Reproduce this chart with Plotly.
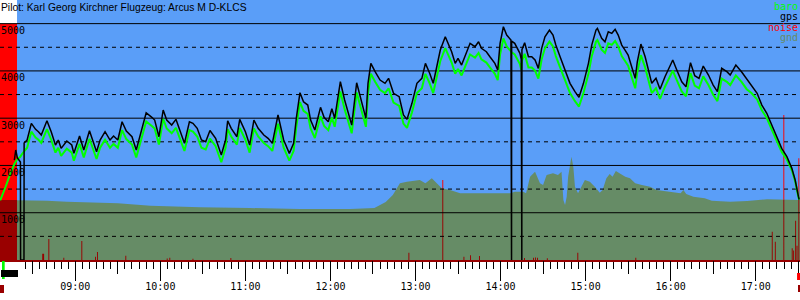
import numpy as np
import pandas as pd
import plotly.graph_objects as go

DAY = "2023-07-15 "

title_text = "Pilot: Karl Georg Kirchner Flugzeug: Arcus M D-KLCS"
legend_names = ["baro", "gps", "noise", "gnd"]

C_BLUE = "#5a9ef8"
C_BARO = "#00ff00"
C_GPS = "#000000"
C_NOISE = "#ff0000"
C_NOISE_DARK = "#990000"
C_GND = "#668c66"
legend_colors = [C_BARO, C_GPS, C_NOISE, C_GND]

x_start = "08:06:53"
x_end = "17:31:15"
takeoff = "08:18:54"

y_ticks = [1000, 2000, 3000, 4000, 5000]
grid_major = [1000, 2000, 3000, 4000, 5000]
grid_minor = [500, 1500, 2500, 3500, 4500]

gps_times = [
    "08:17:00", "08:18:00", "08:19:10", "08:21:18", "08:21:24", "08:23:48", "08:23:54",
    "08:26", "08:29", "08:32", "08:34", "08:36", "08:40", "08:43", "08:46", "08:48", "08:50",
    "08:54", "08:57:30", "08:59", "09:03", "09:06", "09:10", "09:13", "09:15", "09:17:30",
    "09:21", "09:24:30", "09:27", "09:30", "09:33", "09:36", "09:40", "09:43", "09:47",
    "09:50", "09:54", "09:56", "09:59", "10:02", "10:04:30", "10:08", "10:11", "10:14",
    "10:17", "10:20:30", "10:23", "10:26", "10:29", "10:32", "10:35", "10:39", "10:43",
    "10:46", "10:47:30", "10:50", "10:54", "10:56", "11:00", "11:03", "11:06", "11:09",
    "11:13", "11:16", "11:19", "11:23", "11:27", "11:31", "11:34", "11:36", "11:38:30",
    "11:41", "11:44", "11:46", "11:49", "11:53", "11:55:30", "11:58:30", "12:01", "12:03",
    "12:07", "12:10", "12:15", "12:18:30", "12:22", "12:25", "12:26:30", "12:28:30",
    "12:31:30", "12:35", "12:38:30", "12:41", "12:44:30", "12:48:30", "12:51:30", "12:54",
    "12:57:30", "13:01", "13:04:30", "13:07", "13:10", "13:12:30", "13:15", "13:17:30",
    "13:21", "13:23", "13:25:30", "13:28", "13:30", "13:32:30", "13:36", "13:38:30",
    "13:42", "13:44:30", "13:46:30", "13:50", "13:52:30", "13:56", "13:58", "13:59:40",
    "14:02", "14:04:20", "14:07:20", "14:07:25", "14:07:45", "14:07:50", "14:10",
    "14:13:40", "14:14:35", "14:14:40", "14:15:00", "14:15:05", "14:17", "14:19:40",
    "14:22", "14:24:20", "14:26:40", "14:29", "14:31:20", "14:34:30", "14:37", "14:39",
    "14:42", "14:45:30", "14:49", "14:52:30", "14:55:20", "14:58:30", "15:02", "15:04:20",
    "15:07:20", "15:08:20", "15:11:20", "15:13:40", "15:16", "15:18:30", "15:20:50",
    "15:23", "15:25:30", "15:27:50", "15:30", "15:32:30", "15:35", "15:36:30", "15:39",
    "15:42", "15:44:20", "15:46:40", "15:49:40", "15:52:30", "15:56", "15:59", "16:01:30",
    "16:04:20", "16:07:50", "16:10:50", "16:14", "16:17", "16:20", "16:23", "16:26:40",
    "16:30", "16:33", "16:36", "16:39:40", "16:42", "16:46", "16:50", "16:53:40", "16:57",
    "17:01", "17:04:20", "17:07:50", "17:11:20", "17:15", "17:18:20", "17:22", "17:25:30",
    "17:27:50", "17:29", "17:30:10", "17:30:40",
]
gps_values = [
    2115, 2327, 2157, 2073, 0, 0, 2475,
    2538, 2891, 2764, 2714, 2644, 2946, 2714, 2432, 2538, 2362,
    2517, 2432, 2256, 2623, 2327, 2735, 2468, 2291, 2538,
    2714, 2538, 2623, 2538, 2925, 2728, 2608, 2327, 2750,
    3115, 3018, 2961, 2608, 3173, 2961, 2855, 2975, 2714,
    2468, 2925, 2891, 2785, 2538, 2502, 2740, 2573, 2221,
    2538, 2946, 2785, 2608, 2975, 2714, 2432, 2961, 2785,
    2644, 2573, 2468, 3067, 2538, 2256, 2468, 3018, 3539,
    3348, 3278, 2961, 2750, 3229, 3018, 2925, 3200, 2997,
    3771, 3384, 2855, 3750, 3314, 2997, 3737, 4160,
    3983, 3807, 3737, 3843, 3526, 3454, 3067, 2975,
    3314, 3737, 3843, 4160, 3949, 3737, 4088, 4441,
    4723, 4583, 4406, 4160, 4266, 4124, 4372, 4583,
    4512, 4617, 4477, 4406, 4300, 4160, 4019, 4583,
    4934, 4759, 4653, 0, 0, 4630, 4583,
    4372, 4250, 0, 0, 4450, 4596, 4300,
    4300, 4230, 4054, 4477, 4723, 4865, 4759, 4547,
    4300, 4019, 3737, 3560, 3441, 3737, 4160, 4547,
    4865, 4900, 4689, 4617, 4829, 4795, 4879,
    4759, 4547, 4441, 4336, 4088, 3843, 4194, 4568,
    4300, 4019, 3737, 3843, 3610, 3877, 4088, 4230,
    4019, 3771, 3665, 4173, 3900, 3843, 4103, 3913,
    3701, 3560, 4054, 3983, 3913, 4124, 3983, 3822, 3701,
    3526, 3278, 3103, 2855, 2608, 2362, 2185, 1939,
    1692, 1481, 1339, 1280,
]

baro_times = [
    "08:07", "08:09", "08:11", "08:13", "08:15", "08:17", "08:19", "08:21", "08:23:54",
    "08:26", "08:29", "08:32", "08:34", "08:36", "08:40", "08:43", "08:46", "08:48", "08:50",
    "08:54", "08:57:30", "08:59", "09:03", "09:06", "09:10", "09:13", "09:15", "09:17:30",
    "09:21", "09:24:30", "09:27", "09:30", "09:33", "09:36", "09:40", "09:43", "09:47",
    "09:50", "09:54", "09:56", "09:59", "10:02", "10:04:30", "10:08", "10:11", "10:14",
    "10:17", "10:20:30", "10:23", "10:26", "10:29", "10:32", "10:35", "10:39", "10:43",
    "10:46", "10:47:30", "10:50", "10:54", "10:56", "11:00", "11:03", "11:06", "11:09",
    "11:13", "11:16", "11:19", "11:23", "11:27", "11:31", "11:34", "11:36", "11:38:30",
    "11:41", "11:44", "11:46", "11:49", "11:53", "11:55:30", "11:58:30", "12:01", "12:03",
    "12:07", "12:10", "12:15", "12:18:30", "12:22", "12:25", "12:26:30", "12:28:30",
    "12:31:30", "12:35", "12:38:30", "12:41", "12:44:30", "12:48:30", "12:51:30", "12:54",
    "12:57:30", "13:01", "13:04:30", "13:07", "13:10", "13:12:30", "13:15", "13:17:30",
    "13:21", "13:23", "13:25:30", "13:28", "13:30", "13:32:30", "13:36", "13:38:30",
    "13:42", "13:44:30", "13:46:30", "13:50", "13:52:30", "13:56", "13:58", "13:59:40",
    "14:02", "14:04:20", "14:07:20", "14:07:50", "14:10",
    "14:13:40", "14:14:35", "14:15:05", "14:17", "14:19:40",
    "14:22", "14:24:20", "14:26:40", "14:29", "14:31:20", "14:34:30", "14:37", "14:39",
    "14:42", "14:45:30", "14:49", "14:52:30", "14:55:20", "14:58:30", "15:02", "15:04:20",
    "15:07:20", "15:08:20", "15:11:20", "15:13:40", "15:16", "15:18:30", "15:20:50",
    "15:23", "15:25:30", "15:27:50", "15:30", "15:32:30", "15:35", "15:36:30", "15:39",
    "15:42", "15:44:20", "15:46:40", "15:49:40", "15:52:30", "15:56", "15:59", "16:01:30",
    "16:04:20", "16:07:50", "16:10:50", "16:14", "16:17", "16:20", "16:23", "16:26:40",
    "16:30", "16:33", "16:36", "16:39:40", "16:42", "16:46", "16:50", "16:53:40", "16:57",
    "17:01", "17:04:20", "17:07:50", "17:11:20", "17:15", "17:18:20", "17:22", "17:25:30",
    "17:27:50", "17:29", "17:30:10", "17:30:40",
]
baro_values = [
    1260, 1400, 1560, 1730, 1900, 2030, 2130, 2180, 2300,
    2374, 2714, 2592, 2544, 2476, 2768, 2544, 2272, 2374, 2204,
    2354, 2272, 2102, 2456, 2171, 2564, 2307, 2136, 2374,
    2544, 2374, 2456, 2374, 2748, 2558, 2442, 2171, 2579,
    2931, 2837, 2782, 2442, 2987, 2782, 2680, 2796, 2544,
    2307, 2748, 2715, 2613, 2374, 2339, 2569, 2408, 2068,
    2374, 2768, 2613, 2442, 2796, 2544, 2272, 2782, 2613,
    2476, 2408, 2307, 2885, 2374, 2102, 2307, 2837, 3340,
    3156, 3088, 2782, 2579, 3041, 2837, 2748, 3013, 2817,
    3564, 3191, 2680, 3544, 3123, 2817, 3531, 3939,
    3769, 3599, 3531, 3633, 3328, 3258, 2885, 2796,
    3123, 3531, 3633, 3939, 3736, 3531, 3870, 4211,
    4483, 4348, 4177, 3939, 4042, 3905, 4144, 4348,
    4279, 4380, 4245, 4177, 4074, 3939, 3803, 4348,
    4686, 4517, 4415, 4393, 4348,
    4144, 4026, 4219, 4360, 4074,
    4074, 4007, 3837, 4245, 4483, 4620, 4517, 4313,
    4074, 3803, 3531, 3360, 3246, 3531, 3939, 4313,
    4620, 4653, 4450, 4380, 4585, 4552, 4633,
    4517, 4313, 4211, 4109, 3870, 3633, 3972, 4333,
    4074, 3803, 3531, 3633, 3409, 3666, 3870, 4007,
    3803, 3564, 3462, 3952, 3688, 3633, 3884, 3701,
    3496, 3360, 3837, 3769, 3701, 3905, 3769, 3613, 3531,
    3396, 3168, 3003, 2760, 2518, 2287, 2125, 1899,
    1667, 1466, 1329, 1275,
]

gnd_times = [
    "08:06", "08:19", "08:40", "08:54", "09:30", "09:53", "10:28", "11:03", "11:38",
    "12:14", "12:31", "12:39", "12:44", "12:49", "12:54", "13:03", "13:07", "13:11:30",
    "13:14", "13:18:30", "13:24:20", "13:31:30", "14:07", "14:10", "14:16", "14:18",
    "14:20:50", "14:24:20", "14:27:50", "14:30", "14:32:30", "14:37", "14:40:30", "14:43",
    "14:44:20", "14:45:30", "14:46:40", "14:47:40", "14:50", "14:51:20", "14:52:30",
    "14:54:40", "14:59:30", "15:03", "15:06:30", "15:10", "15:12", "15:14:40", "15:17",
    "15:19", "15:21:20", "15:24", "15:28", "15:31:20", "15:35", "15:39:40", "15:45:30",
    "15:50", "15:57", "16:07", "16:09", "16:11", "16:16", "16:24", "16:29", "16:42",
    "16:54", "17:08", "17:32",
]
gnd_values = [
    1269, 1269, 1254, 1233, 1199, 1149, 1114, 1100, 1079,
    1079, 1100, 1227, 1375, 1622, 1656, 1692, 1622, 1728,
    1656, 1516, 1480, 1411, 1411, 1445, 1445, 1411,
    1762, 1868, 1622, 1586, 1798, 1834, 1798, 1868,
    1269, 1163, 1339, 1762, 2185, 1973, 1550,
    1411, 1692, 1656, 1550, 1423, 1480, 1728, 1819,
    1762, 1882, 1834, 1762, 1728, 1622, 1586, 1550,
    1480, 1445, 1411, 1480, 1396, 1339, 1305, 1254, 1233,
    1248, 1284, 1269,
]

noise_times = [
    "08:06:00", "08:18:54", "08:36:40", "08:38:00", "08:41:00", "08:41:40",
    "08:51:34", "08:52:14", "09:04:16", "09:04:56", "09:13:54", "09:14:34",
    "09:15:18", "09:15:58", "09:35:18", "09:35:58", "10:04:30", "10:05:10",
    "10:06:20", "10:07:00", "10:22:40", "10:23:20", "10:49:25", "10:50:05",
    "12:55:00", "12:55:40", "13:18:55", "13:19:35", "13:33:50", "13:34:30",
    "13:38:30", "13:39:10", "13:44:50", "13:45:30", "14:16:35", "14:17:15",
    "14:22:55", "14:23:35", "14:24:20", "14:25:00", "14:25:45", "14:26:25",
    "14:32:40", "14:33:20", "14:54:10", "14:54:50", "15:35:05", "15:35:45",
    "17:11:20", "17:12:00", "17:13:30", "17:14:10", "17:19:30", "17:20:10",
    "17:25:25", "17:26:05", "17:26:25", "17:27:05", "17:27:50", "17:28:30",
    "17:28:50", "17:29:30", "17:30:05", "17:30:45",
]
noise_values = [
    5000, 0, 130, 0, 444, 0,
    50, 0, 400, 0, 70, 0,
    170, 0, 90, 0, 30, 0,
    50, 0, 25, 0, 40, 0,
    155, 0, 1692, 0, 70, 0,
    100, 0, 85, 0, 40, 0,
    50, 0, 55, 0, 50, 0,
    35, 0, 155, 0, 50, 0,
    599, 0, 387, 0, 3067, 0,
    250, 0, 200, 0, 830, 0,
    300, 0, 2150, 0,
]

# small timeline markers below the axis
marker_starts = ["08:08:18", "08:07:35", "08:06:53", "17:29:10", "17:29:50"]
marker_ends = ["08:10:12", "08:19:35", "08:09:43", "17:31:15", "17:31:15"]
marker_colors = [C_BARO, C_GPS, C_NOISE_DARK, C_NOISE, C_NOISE_DARK]
marker_rows = [(261, 279), (270, 277), (285, 293), (273, 280), (285, 292)]


def ts(lst):
    return pd.to_datetime([DAY + t for t in lst], format="mixed")


PLOT_H = 260.0

gps_x = ts(gps_times)
baro_x = ts(baro_times)
gnd_x = ts(gnd_times)
noise_x = ts(noise_times)
gnd_at_noise = np.interp(noise_x.asi8.astype(float), gnd_x.asi8.astype(float),
                         np.array(gnd_values, dtype=float))
noise_under_gnd = np.minimum(np.array(noise_values, dtype=float), gnd_at_noise)

t0 = pd.Timestamp(DAY + x_start)
t1 = pd.Timestamp(DAY + x_end)

fig = go.Figure()
fig.add_trace(go.Scatter(x=noise_x, y=noise_values, mode="lines",
                         line=dict(width=0, shape="hv"), fill="tozeroy",
                         fillcolor=C_NOISE, hoverinfo="skip", showlegend=False))
fig.add_trace(go.Scatter(x=gnd_x, y=gnd_values, mode="lines",
                         line=dict(width=0), fill="tozeroy",
                         fillcolor=C_GND, hoverinfo="skip", showlegend=False))
fig.add_trace(go.Scatter(x=noise_x, y=noise_under_gnd, mode="lines",
                         line=dict(width=0, shape="hv"), fill="tozeroy",
                         fillcolor=C_NOISE_DARK, hoverinfo="skip", showlegend=False))


def grid_trace(levels, dash):
    gx, gy = [], []
    for lv in levels:
        gx += [t0, t1, None]
        gy += [lv, lv, None]
    return go.Scatter(x=gx, y=gy, mode="lines",
                      line=dict(color="black", width=1, dash=dash),
                      hoverinfo="skip", showlegend=False)


fig.add_trace(grid_trace(grid_major, "solid"))
fig.add_trace(grid_trace(grid_minor, "4px,4px"))

fig.add_trace(go.Scatter(x=baro_x, y=baro_values, mode="lines", name="baro",
                         line=dict(color=C_BARO, width=2), showlegend=False))
fig.add_trace(go.Scatter(x=gps_x, y=gps_values, mode="lines", name="gps",
                         line=dict(color=C_GPS, width=1.5), showlegend=False))
fig.add_trace(go.Scatter(x=[t0, t1], y=[0, 0], mode="none", xaxis="x2",
                         hoverinfo="skip", showlegend=False))

mono = "DejaVu Sans Mono"

annotations = [dict(text=title_text, xref="paper", yref="paper", x=0, y=1,
                    xanchor="left", yanchor="top", showarrow=False, xshift=-1,
                    font=dict(family="Liberation Sans", size=10.3, color="black"))]
for i, (nm, col) in enumerate(zip(legend_names, legend_colors)):
    ypx = 6.7 + 10.2 * i
    annotations.append(dict(text=nm, xref="paper", yref="paper", x=1,
                            y=1 - ypx / PLOT_H, xanchor="right", yanchor="middle",
                            showarrow=False, xshift=0,
                            font=dict(family=mono, size=10, color=col)))

shapes = [dict(type="rect", xref="x", yref="paper", x0=DAY + takeoff, x1=DAY + x_end,
               y0=0, y1=1, fillcolor=C_BLUE, line=dict(width=0), layer="below")]
for s, e, c, (top, bot) in zip(marker_starts, marker_ends, marker_colors, marker_rows):
    shapes.append(dict(type="rect", xref="x", yref="paper", x0=DAY + s, x1=DAY + e,
                       y0=(PLOT_H - bot) / PLOT_H, y1=(PLOT_H - top) / PLOT_H,
                       fillcolor=c, line=dict(width=0), layer="above"))

fig.update_layout(
    width=800, height=300,
    margin=dict(l=0, r=0, t=0, b=40),
    paper_bgcolor="white", plot_bgcolor="white",
    annotations=annotations, shapes=shapes,
    xaxis=dict(type="date", range=[t0, t1], tickformat="%H:%M",
               dtick=3600000, tick0=DAY + "00:00", ticks="outside", ticklen=19,
               tickwidth=1, tickcolor="black", showline=True, linecolor=C_NOISE_DARK,
               linewidth=2, showgrid=False, zeroline=False, ticklabelstandoff=-3,
               tickfont=dict(family=mono, size=10, color="black"),
               minor=dict(dtick=300000, tick0=DAY + "00:00", ticks="outside", ticklen=7,
                          tickcolor="black", tickwidth=1, showgrid=False)),
    xaxis2=dict(type="date", overlaying="x", matches="x", anchor="y", side="bottom",
                dtick=1800000, tick0=DAY + "00:00", ticks="outside", ticklen=13,
                tickwidth=1, tickcolor="black", showticklabels=False, showgrid=False,
                showline=False, zeroline=False),
    yaxis=dict(range=[0, 5500], tickvals=y_ticks, ticks="", showgrid=False,
               zeroline=False, showline=False, ticklabelposition="inside bottom",
               ticklabelstandoff=-2,
               tickfont=dict(family=mono, size=10, color="black")),
)

fig.write_html("out.html")
